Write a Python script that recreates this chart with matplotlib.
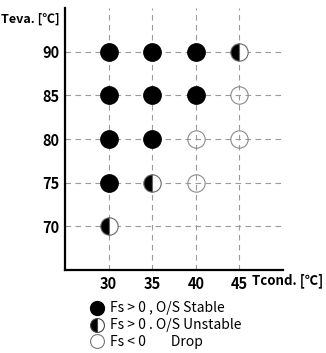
import matplotlib
matplotlib.use('Agg')
import matplotlib.pyplot as plt
from matplotlib.lines import Line2D

# Datos: (Tcond, Teva) por estado
stable_x = [30, 35, 40, 30, 35, 40, 30, 35, 30]
stable_y = [90, 90, 90, 85, 85, 85, 80, 80, 75]
unstable_x = [45, 35, 30]
unstable_y = [90, 75, 70]
drop_x = [45, 40, 45, 40]
drop_y = [85, 80, 80, 75]

xticks = [30, 35, 40, 45]
yticks = [70, 75, 80, 85, 90]
labels = ['Fs > 0 , O/S Stable', 'Fs > 0 . O/S Unstable', 'Fs < 0        Drop']

plt.rcParams['font.family'] = ['Noto Sans CJK KR', 'DejaVu Sans']

fig = plt.figure(figsize=(3.26, 3.53), dpi=100)
ax = fig.add_axes([0.1994, 0.2351, 0.6687, 0.742])

# rejilla discontinua
for x in xticks:
    ax.axvline(x, color='#9a9a9a', linewidth=0.8, dashes=(5, 4), zorder=1)
for y in yticks:
    ax.axhline(y, color='#9a9a9a', linewidth=0.8, dashes=(5, 4), zorder=1)

ms = 12.5
ax.plot(stable_x, stable_y, 'o', ms=ms, color='k', mec='k', zorder=3)
ax.plot(unstable_x, unstable_y, 'o', ms=ms, fillstyle='left', color='k',
        markerfacecoloralt='white', mec='#666666', mew=0.8, zorder=3)
ax.plot(drop_x, drop_y, 'o', ms=ms, mfc='none', mec='#8a8a8a', mew=0.8, zorder=3)

ax.set_xlim(25, 50)
ax.set_ylim(65, 95)
ax.set_xticks(xticks)
ax.set_yticks(yticks)
ax.tick_params(length=0, labelsize=10.5, pad=4)
for t in ax.get_xticklabels() + ax.get_yticklabels():
    t.set_fontweight('bold')
for s in ['top', 'right']:
    ax.spines[s].set_visible(False)
for s in ['left', 'bottom']:
    ax.spines[s].set_linewidth(1.6)

fig.text(0.183, 0.945, u'Teva. [\u2103]', ha='right', va='center',
         fontsize=9, fontweight='bold')
fig.text(0.773, 0.204, u'Tcond. [\u2103]', ha='left', va='center',
         fontsize=9.5, fontweight='bold')

# Leyenda
handles = [
    Line2D([], [], ls='none', marker='o', ms=10, color='k'),
    Line2D([], [], ls='none', marker='o', ms=10, fillstyle='left', color='k',
           markerfacecoloralt='white', mec='#444444', mew=0.8),
    Line2D([], [], ls='none', marker='o', ms=10, mfc='none', mec='#777777',
           mew=0.8),
]
fig.legend(handles, labels, loc='upper left', bbox_to_anchor=(0.28, 0.146),
           frameon=False, fontsize=10, handlelength=0.8, handletextpad=0.55,
           labelspacing=0.21, borderaxespad=0, borderpad=0)

fig.savefig('out.png', dpi=100)
